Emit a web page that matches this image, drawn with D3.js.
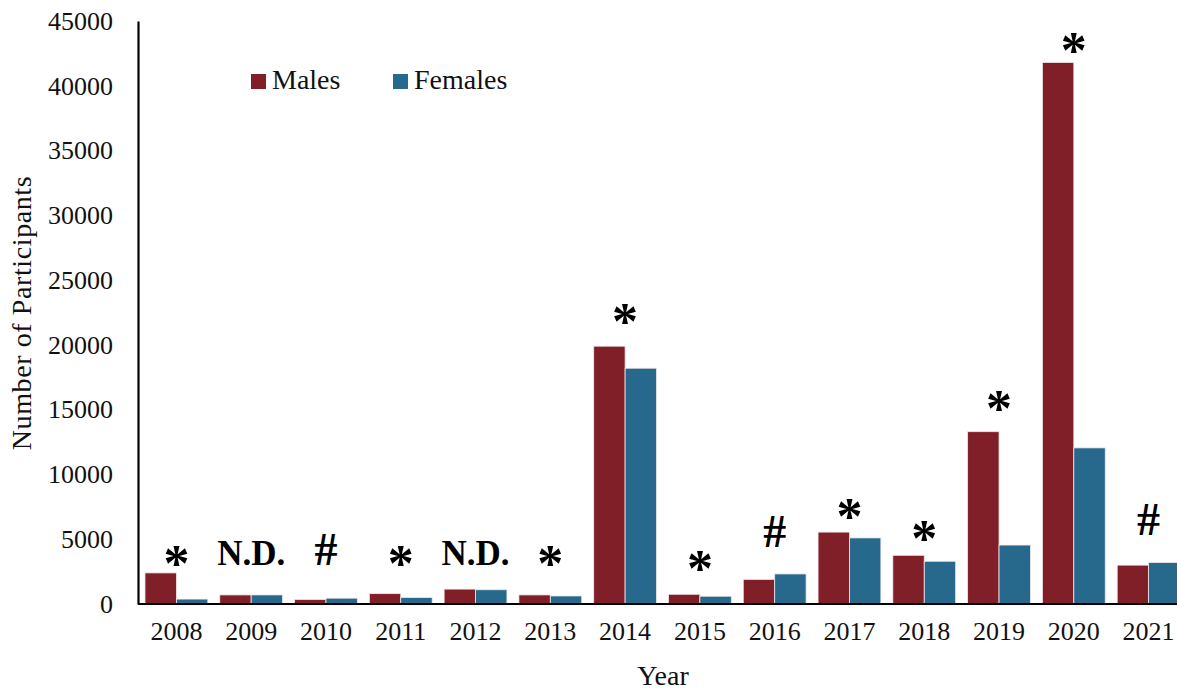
<!DOCTYPE html>
<html>
<head>
<meta charset="utf-8">
<script src="https://cdn.jsdelivr.net/npm/d3@7"></script>
<style>
  body { margin: 0; background: #fff; }
  svg { display: block; font-family: "Liberation Serif", "DejaVu Serif", serif; }
</style>
</head>
<body>
<svg id="chart"></svg>
<script>
const years = ["2008", "2009", "2010", "2011", "2012", "2013", "2014",
  "2015", "2016", "2017", "2018", "2019", "2020", "2021"];
const males = [2400, 700, 350, 800, 1150, 700, 19900, 750, 1900, 5550, 3760, 13300, 41800, 3000];
const females = [380, 700, 450, 500, 1100, 620, 18200, 600, 2320, 5100, 3300, 4550, 12050, 3200];
const marks = ["*", "N.D.", "#", "*", "N.D.", "*", "*", "*", "#", "*", "*", "*", "*", "#"];
// level (in participants) where each mark sits
const markLevels = [3000, 3000, 3000, 3000, 3000, 3000, 21700, 2650, 4400, 6650, 4950, 14950, 42600, 5350];
const yTicks = [0, 5000, 10000, 15000, 20000, 25000, 30000, 35000, 40000, 45000];
const seriesNames = ["Males", "Females"];

const W = 1177, H = 691;
const colors = { Males: "#801f28", Females: "#26698c" };

const svg = d3.select("#chart").attr("width", W).attr("height", H);

const x = d3.scaleBand().domain(years).range([139, 1186]).paddingInner(0.16).paddingOuter(0.08);
const xInner = d3.scaleBand().domain(seriesNames).range([0, x.bandwidth()]);
const y = d3.scaleLinear().domain([0, 45000]).range([604, 21]);

const rows = years.map((yr, i) => ({ year: yr, Males: males[i], Females: females[i], mark: marks[i], level: markLevels[i] }));

// bars
const groups = svg.append("g")
  .selectAll("g")
  .data(rows)
  .join("g")
  .attr("transform", (d) => `translate(${x(d.year)},0)`);

groups.selectAll("rect")
  .data((d) => seriesNames.map((k) => ({ key: k, value: d[k] })))
  .join("rect")
  .attr("x", (d) => xInner(d.key))
  .attr("y", (d) => y(d.value))
  .attr("width", xInner.bandwidth())
  .attr("height", (d) => y(0) - y(d.value))
  .attr("fill", (d) => colors[d.key])
  .attr("stroke", "#f3e6e8")
  .attr("stroke-width", 0.8);

// y axis
const yAxis = svg.append("g")
  .attr("transform", "translate(138,0)")
  .call(d3.axisLeft(y).tickValues(yTicks).tickSize(0).tickPadding(25).tickFormat(d3.format("d")));
yAxis.select(".domain").attr("stroke", "#000").attr("stroke-width", 2.2);
yAxis.selectAll("text").style("font-size", "26px").style("font-family", "Liberation Serif").attr("fill", "#111");

// x axis
const xAxis = svg.append("g")
  .attr("transform", "translate(0,604)")
  .call(d3.axisBottom(x).tickSize(0).tickPadding(18));
xAxis.select(".domain").attr("d", "M138,0H1177").attr("stroke", "#000").attr("stroke-width", 2.2);
xAxis.selectAll("text").style("font-size", "26px").style("font-family", "Liberation Serif").attr("fill", "#111");

// significance marks
const markSize = { "*": 52, "#": 46, "N.D.": 35 };
svg.append("g")
  .selectAll("text")
  .data(rows)
  .join("text")
  .attr("x", (d) => x(d.year) + x.bandwidth() / 2)
  .attr("y", (d) => y(d.level) + (d.mark === "*" ? 16 : 0))
  .attr("text-anchor", "middle")
  .style("font-weight", "bold")
  .style("font-size", (d) => markSize[d.mark] + "px")
  .attr("fill", "#000")
  .text((d) => d.mark);

// axis titles
svg.append("text")
  .attr("transform", "translate(31,313) rotate(-90)")
  .attr("text-anchor", "middle")
  .style("font-size", "28px")
  .style("letter-spacing", "0.6px")
  .attr("fill", "#111")
  .text("Number of Participants");

svg.append("text")
  .attr("x", 663)
  .attr("y", 685)
  .attr("text-anchor", "middle")
  .style("font-size", "28px")
  .attr("fill", "#111")
  .text("Year");

// legend
const legendX = [251, 393];
const legend = svg.append("g")
  .selectAll("g")
  .data(seriesNames)
  .join("g")
  .attr("transform", (d, i) => `translate(${legendX[i]},74)`);
legend.append("rect").attr("width", 15).attr("height", 15).attr("fill", (d) => colors[d]);
legend.append("text")
  .attr("x", 21)
  .attr("y", 15)
  .style("font-size", "28px")
  .attr("fill", "#111")
  .text((d) => d);
</script>
</body>
</html>
